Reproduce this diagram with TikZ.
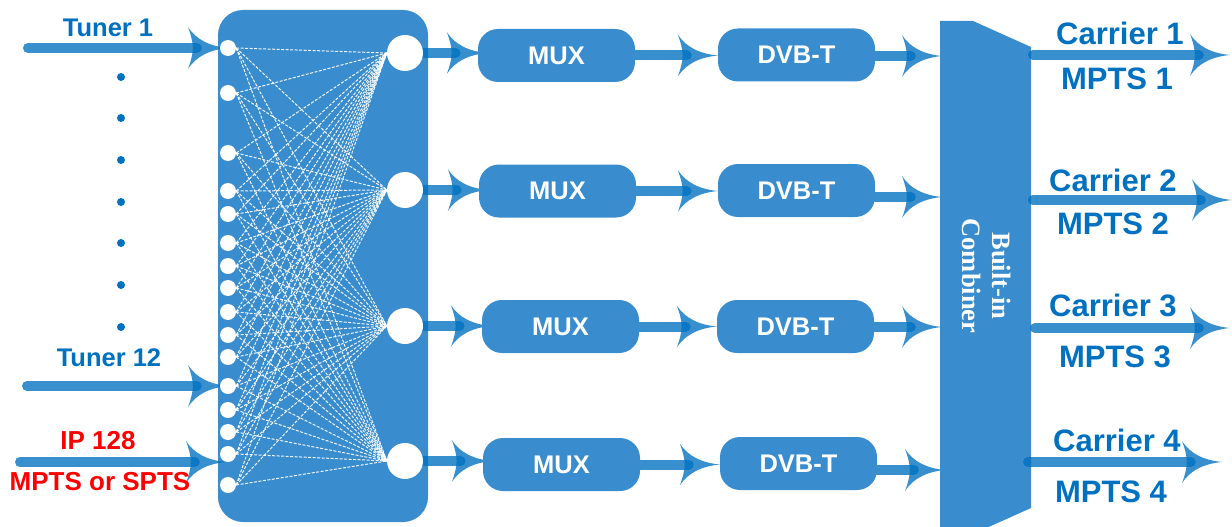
\documentclass[tikz,border=0pt]{standalone}
\usepackage{fontspec}
\setmainfont{Liberation Sans}
\newfontfamily\serifbold{Liberation Serif}
\usetikzlibrary{arrows.meta}
\pgfdeclarelayer{back}
\pgfdeclarelayer{mid}
\pgfsetlayers{back,mid,main}
\definecolor{boxblue}{HTML}{398CCE}
\definecolor{txtblue}{HTML}{0070C0}
\definecolor{ipred}{HTML}{FF0000}

\pgfdeclarearrow{
  name = Swept,
  parameters = {\the\pgfarrowlength,\the\pgfarrowwidth},
  setup code = {
    \pgfarrowssettipend{0pt}
    \pgfarrowssetlineend{-.78\pgfarrowlength}
    \pgfarrowssetvisualbackend{-.88\pgfarrowlength}
    \pgfarrowssetbackend{-\pgfarrowlength}
    \pgfarrowsupperhullpoint{-\pgfarrowlength}{.5\pgfarrowwidth}
    \pgfarrowsupperhullpoint{0pt}{0pt}
    \pgfarrowssavethe\pgfarrowlength
    \pgfarrowssavethe\pgfarrowwidth
  },
  drawing code = {
    \pgfpathmoveto{\pgfqpoint{0pt}{0pt}}
    \pgfpathcurveto{\pgfqpoint{-.45\pgfarrowlength}{.04\pgfarrowwidth}}{\pgfqpoint{-.8\pgfarrowlength}{.2\pgfarrowwidth}}{\pgfqpoint{-\pgfarrowlength}{.5\pgfarrowwidth}}
    \pgfpathcurveto{\pgfqpoint{-.93\pgfarrowlength}{.32\pgfarrowwidth}}{\pgfqpoint{-.88\pgfarrowlength}{.16\pgfarrowwidth}}{\pgfqpoint{-.88\pgfarrowlength}{0pt}}
    \pgfpathcurveto{\pgfqpoint{-.88\pgfarrowlength}{-.16\pgfarrowwidth}}{\pgfqpoint{-.93\pgfarrowlength}{-.32\pgfarrowwidth}}{\pgfqpoint{-\pgfarrowlength}{-.5\pgfarrowwidth}}
    \pgfpathcurveto{\pgfqpoint{-.8\pgfarrowlength}{-.2\pgfarrowwidth}}{\pgfqpoint{-.45\pgfarrowlength}{-.04\pgfarrowwidth}}{\pgfqpoint{0pt}{0pt}}
    \pgfpathclose
    \pgfusepathqfill
  },
  defaults = {length = 40pt, width = 42pt}
}

\begin{document}
\begin{tikzpicture}[x=1pt,y=-1pt,
  flow/.style={draw=txtblue, opacity=0.78, line width=10pt, line cap=round, -{Swept}},
  block/.style={fill=boxblue, rounded corners=20pt, minimum width=157pt, minimum height=53pt,
    inner sep=0pt, text=white, font=\bfseries\fontsize{25.5}{30}\selectfont},
  port/.style={circle, fill=white, minimum size=16pt, inner sep=0pt},
  hub/.style={circle, fill=white, minimum size=36pt, inner sep=0pt},
  link/.style={draw=white, line width=1pt, dash pattern=on 3pt off 1.5pt, opacity=0.92},
  lbl/.style={text=txtblue, inner sep=0pt, font=\bfseries\fontsize{25.5}{30}\selectfont},
  redlbl/.style={text=ipred, inner sep=0pt, font=\bfseries\fontsize{26}{30}\selectfont},
  outlbl/.style={text=txtblue, inner sep=0pt, font=\bfseries\fontsize{31}{36}\selectfont},
  dotn/.style={circle, fill=txtblue, minimum size=8pt, inner sep=0pt},
  matrixbox/.style={fill=boxblue, rounded corners=25pt, minimum width=210pt, minimum height=512pt, inner sep=0pt}
]
\useasboundingbox (0,0) rectangle (1232,527);

% switch matrix box
\begin{pgfonlayer}{back}
  \node[matrixbox] (sw) at (323,266) {};
\end{pgfonlayer}

% input ports
\foreach \y [count=\i] in {48,93,153,191,214,243,266,288,312,335,357,386,410,432,454,485}
  \node[port] (s\i) at (228,\y) {};
% output hubs
\foreach \y [count=\j] in {53,190,326,461}
  \node[hub] (b\j) at (405,\y) {};

% dashed cross connections
\begin{pgfonlayer}{mid}
  \foreach \i in {1,...,16}
    \foreach \j in {1,...,4}
      \draw[link] (s\i.east) -- (b\j.west);
\end{pgfonlayer}

% vertical dots
\foreach \y [count=\k] in {77,118,160,202,243,285,327}
  \node[dotn] (d\k) at (121,\y) {};

% input labels
\node[lbl] (lt1) at (108,28) {Tuner 1};
\node[lbl] (lt12) at (109,358) {Tuner 12};
\node[redlbl] (lip) at (98,441) {IP 128};
\node[redlbl] (lmp) at (100,482) {MPTS or SPTS};

% MUX and DVB-T blocks
\node[block] (M1) at (556.5,55.5) {MUX};
\node[block] (D1) at (796.5,55) {DVB-T};
\node[block] (M2) at (557.5,191) {MUX};
\node[block] (D2) at (796.5,190.5) {DVB-T};
\node[block] (M3) at (560.5,326.5) {MUX};
\node[block] (D3) at (795.5,326.5) {DVB-T};
\node[block] (M4) at (561.5,464.5) {MUX};
\node[block] (D4) at (798.5,463.5) {DVB-T};

% combiner
\fill[boxblue] (940,21) -- (973,21) -- (1031,47) -- (1031,508) -- (973,534) -- (940,534) -- cycle;
\node[text=white, inner sep=0pt, rotate=-90, align=center,
      font=\serifbold\bfseries\fontsize{26.5}{30}\selectfont] (comb) at (987,276) {Built-in\\Combiner};

% coordinates
\coordinate (t1s) at (28,48);
\coordinate (t12s) at (27,386);
\coordinate (ips) at (20,462);
\coordinate (ipe) at (226,462);
\coordinate (c1) at (942,56);
\coordinate (c2) at (942,197);
\coordinate (c3) at (942,327);
\coordinate (c4) at (945,470);
\coordinate (o1s) at (1033,55);  \coordinate (o1e) at (1230,55);
\coordinate (o2s) at (1033,200); \coordinate (o2e) at (1232,200);
\coordinate (o3s) at (1035,328); \coordinate (o3e) at (1230,328);
\coordinate (o4s) at (1028,462); \coordinate (o4e) at (1222,462);

\begin{pgfonlayer}{mid}
  \draw[flow] (t1s) -- (s1.center);
  \draw[flow] (t12s) -- (s12.center);
  \draw[flow] (ips) -- (ipe);
  \foreach \j in {1,...,4} {
    \draw[flow] (b\j.east) -- ([xshift=9pt]b\j.east -| M\j.west);
    \draw[flow] (M\j.east) -- (M\j.east -| D\j.west);
    \draw[flow] (D\j.east |- c\j) -- (c\j);
  }
\end{pgfonlayer}

% outputs
\foreach \j in {1,...,4}
  \draw[flow] (o\j s) -- (o\j e);

\node[outlbl] (lc1) at (1120,33) {Carrier 1};
\node[outlbl] (lm1) at (1117,79) {MPTS 1};
\node[outlbl] (lc2) at (1113,180) {Carrier 2};
\node[outlbl] (lm2) at (1113,224) {MPTS 2};
\node[outlbl] (lc3) at (1113,305) {Carrier 3};
\node[outlbl] (lm3) at (1115,357) {MPTS 3};
\node[outlbl] (lc4) at (1117,440) {Carrier 4};
\node[outlbl] (lm4) at (1111,492) {MPTS 4};
\end{tikzpicture}
\end{document}
